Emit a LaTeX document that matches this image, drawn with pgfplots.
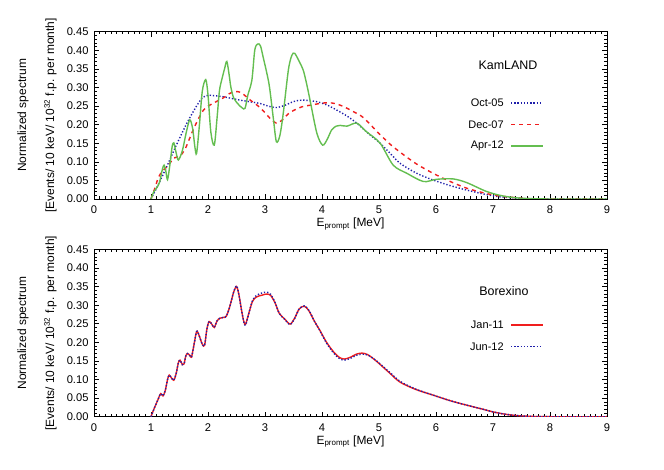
\documentclass[border=0pt]{standalone}
\usepackage{pgfplots}
\pgfplotsset{compat=1.18}
\usepackage{fontspec}
\setmainfont{Liberation Sans}
\definecolor{kamblue}{RGB}{30,30,170}
\definecolor{kamred}{RGB}{240,30,30}
\definecolor{kamgreen}{RGB}{100,190,80}

\pgfplotstableread{
x y
1.00 0.000
1.10 0.030
1.20 0.062
1.30 0.095
1.40 0.130
1.50 0.163
1.60 0.195
1.70 0.224
1.80 0.250
1.90 0.272
2.00 0.279
2.10 0.278
2.27 0.275
2.56 0.266
2.91 0.257
3.05 0.250
3.20 0.246
3.35 0.252
3.50 0.262
3.65 0.266
3.90 0.262
4.10 0.252
4.26 0.239
4.45 0.222
4.61 0.204
4.80 0.178
5.02 0.150
5.20 0.122
5.37 0.096
5.65 0.070
5.95 0.051
6.25 0.036
6.54 0.024
6.85 0.013
7.12 0.006
7.60 0.001
8.00 0.000
9.00 0.000
}\octzerofive

\pgfplotstableread{
x y
1.00 0.000
1.07 0.030
1.13 0.058
1.20 0.075
1.27 0.085
1.33 0.096
1.40 0.110
1.46 0.113
1.52 0.117
1.60 0.135
1.67 0.160
1.74 0.186
1.83 0.215
1.92 0.239
2.00 0.250
2.09 0.257
2.18 0.265
2.27 0.272
2.37 0.283
2.47 0.289
2.57 0.287
2.65 0.278
2.75 0.265
2.88 0.250
3.00 0.232
3.10 0.215
3.20 0.204
3.30 0.212
3.40 0.228
3.50 0.238
3.65 0.248
3.82 0.253
3.97 0.257
4.11 0.259
4.25 0.256
4.40 0.247
4.55 0.235
4.70 0.222
4.85 0.200
5.00 0.176
5.19 0.148
5.37 0.126
5.65 0.095
5.95 0.069
6.25 0.047
6.54 0.029
6.85 0.016
7.12 0.008
7.60 0.001
8.00 0.000
9.00 0.000
}\deczeroseven

\pgfplotstableread{
x y
1.00 0.000
1.05 0.020
1.10 0.030
1.15 0.045
1.20 0.080
1.23 0.091
1.26 0.075
1.29 0.052
1.33 0.090
1.37 0.140
1.40 0.151
1.44 0.125
1.48 0.105
1.55 0.130
1.62 0.180
1.68 0.213
1.73 0.190
1.77 0.140
1.80 0.123
1.85 0.200
1.90 0.290
1.96 0.321
2.00 0.280
2.05 0.180
2.11 0.145
2.16 0.220
2.20 0.290
2.24 0.320
2.29 0.350
2.33 0.370
2.37 0.335
2.40 0.302
2.45 0.272
2.53 0.255
2.60 0.245
2.65 0.244
2.70 0.280
2.77 0.320
2.82 0.400
2.87 0.417
2.92 0.412
2.97 0.380
3.03 0.340
3.08 0.300
3.15 0.212
3.20 0.154
3.26 0.170
3.32 0.230
3.41 0.347
3.47 0.386
3.52 0.392
3.60 0.370
3.67 0.347
3.73 0.310
3.79 0.266
3.91 0.177
4.01 0.145
4.09 0.160
4.17 0.186
4.25 0.196
4.32 0.198
4.44 0.196
4.61 0.204
4.78 0.181
5.02 0.150
5.25 0.091
5.49 0.069
5.78 0.047
6.01 0.053
6.30 0.054
6.54 0.044
6.89 0.020
7.18 0.008
7.50 0.002
8.00 0.000
9.00 0.000
}\aprtwelve

\pgfplotstableread{
x y
1.00 0.000
1.05 0.020
1.12 0.045
1.17 0.062
1.21 0.056
1.25 0.070
1.29 0.100
1.32 0.112
1.36 0.104
1.40 0.098
1.44 0.115
1.48 0.145
1.51 0.152
1.55 0.140
1.58 0.142
1.61 0.163
1.64 0.170
1.68 0.165
1.71 0.160
1.75 0.190
1.80 0.229
1.84 0.220
1.90 0.195
1.94 0.192
1.98 0.235
2.02 0.256
2.07 0.248
2.11 0.240
2.16 0.258
2.21 0.265
2.27 0.267
2.32 0.270
2.38 0.295
2.45 0.335
2.50 0.350
2.54 0.330
2.59 0.285
2.63 0.255
2.66 0.249
2.71 0.275
2.78 0.310
2.85 0.322
2.95 0.327
3.03 0.330
3.10 0.326
3.18 0.305
3.25 0.278
3.35 0.262
3.44 0.249
3.52 0.265
3.60 0.290
3.69 0.297
3.77 0.285
3.87 0.256
3.96 0.233
4.08 0.200
4.20 0.175
4.30 0.160
4.39 0.155
4.50 0.160
4.60 0.168
4.70 0.171
4.80 0.167
4.95 0.150
5.19 0.117
5.37 0.093
5.65 0.073
5.95 0.058
6.25 0.043
6.54 0.031
6.80 0.021
7.00 0.013
7.20 0.007
7.42 0.003
7.65 0.001
8.00 0.000
9.00 0.000
}\janeleven

\pgfplotstableread{
x y
1.00 0.000
1.05 0.020
1.12 0.045
1.17 0.062
1.21 0.056
1.25 0.070
1.29 0.100
1.32 0.112
1.36 0.104
1.40 0.098
1.44 0.115
1.48 0.145
1.51 0.152
1.55 0.140
1.58 0.142
1.61 0.163
1.64 0.170
1.68 0.165
1.71 0.160
1.75 0.190
1.80 0.229
1.84 0.220
1.90 0.195
1.94 0.192
1.98 0.235
2.02 0.256
2.07 0.248
2.11 0.240
2.16 0.258
2.21 0.265
2.27 0.267
2.32 0.270
2.38 0.295
2.45 0.335
2.50 0.352
2.54 0.330
2.59 0.285
2.63 0.254
2.66 0.246
2.71 0.274
2.78 0.312
2.85 0.326
2.95 0.333
3.03 0.335
3.10 0.329
3.18 0.306
3.25 0.278
3.35 0.261
3.44 0.248
3.52 0.264
3.60 0.290
3.69 0.298
3.77 0.286
3.87 0.256
3.96 0.232
4.08 0.198
4.20 0.172
4.30 0.157
4.39 0.152
4.50 0.157
4.60 0.165
4.70 0.168
4.80 0.166
4.95 0.151
5.19 0.119
5.37 0.095
5.65 0.074
5.95 0.058
6.25 0.043
6.54 0.031
6.80 0.021
7.00 0.013
7.20 0.007
7.42 0.003
7.65 0.001
8.00 0.000
9.00 0.000
}\juntwelve

\tikzset{
  blueline/.style={color=kamblue, line width=1.4bp, dash pattern=on 1.3bp off 1.9bp},
  redline/.style={color=kamred, line width=1.4bp, dash pattern=on 4bp off 4bp},
  redsolid/.style={color=kamred, line width=1.4bp},
  greenline/.style={color=kamgreen, line width=1.4bp},
  legtext/.style={font=\fontsize{11}{13}\selectfont, anchor=east, inner sep=0pt},
}

\pgfplotsset{
  panel/.style={
    scale only axis, width=513bp, height=167.3bp,
    xmin=0, xmax=9, ymin=0, ymax=0.45,
    xtick={0,1,2,3,4,5,6,7,8,9},
    ytick={0,0.05,0.10,0.15,0.20,0.25,0.30,0.35,0.40,0.45},
    minor x tick num=9, minor y tick num=4,
    tick align=inside, tick pos=both,
    major tick length=5bp, minor tick length=2.5bp,
    tick style={black, line width=0.6bp},
    axis line style={black, line width=0.8bp},
    every tick label/.append style={font=\fontsize{11.2}{13}\selectfont},
    /pgf/number format/assume math mode=true,
    yticklabel style={/pgf/number format/fixed, /pgf/number format/fixed zerofill, /pgf/number format/precision=2, xshift=-2bp},
    xticklabel style={yshift=-3.5bp},
    xlabel={E\textsubscript{prompt} [MeV]},
    xlabel style={at={(axis description cs:0.5,0)}, anchor=base, yshift=-27.5bp, font=\fontsize{12}{14}\selectfont},
    ylabel={Normalized spectrum\\{[}Events/ 10 keV/ 10\textsuperscript{32} f.p. per month{]}},
    ylabel style={at={(axis description cs:-0.111,0.5)}, anchor=center, align=center, font=\fontsize{12}{28}\selectfont},
  },
}

\begin{document}
\begin{tikzpicture}
\useasboundingbox (0,0) rectangle (664bp,470bp);
\begin{axis}[panel, at={(94bp,271bp)}, anchor=south west]
  \addplot[blueline, smooth] table[x=x,y=y] {\octzerofive};
  \addplot[redline, smooth] table[x=x,y=y] {\deczeroseven};
  \addplot[greenline, smooth] table[x=x,y=y] {\aprtwelve};
  \node[font=\fontsize{12.5}{14}\selectfont] at (axis description cs:0.807,0.801) {KamLAND};
  \node[legtext] at (axis description cs:0.799,0.574) {Oct-05};
  \draw[blueline] (axis description cs:0.813,0.574) -- (axis description cs:0.873,0.574);
  \node[legtext] at (axis description cs:0.799,0.445) {Dec-07};
  \draw[redline] (axis description cs:0.813,0.445) -- (axis description cs:0.873,0.445);
  \node[legtext] at (axis description cs:0.799,0.317) {Apr-12};
  \draw[greenline] (axis description cs:0.813,0.317) -- (axis description cs:0.876,0.317);
\end{axis}
\begin{axis}[panel, at={(94bp,53.3bp)}, anchor=south west]
  \addplot[redsolid, smooth] table[x=x,y=y] {\janeleven};
  \addplot[blueline, smooth] table[x=x,y=y] {\juntwelve};
  \node[font=\fontsize{12.5}{14}\selectfont] at (axis description cs:0.799,0.753) {Borexino};
  \node[legtext] at (axis description cs:0.799,0.548) {Jan-11};
  \draw[redsolid] (axis description cs:0.813,0.548) -- (axis description cs:0.876,0.548);
  \node[legtext] at (axis description cs:0.799,0.418) {Jun-12};
  \draw[blueline] (axis description cs:0.813,0.418) -- (axis description cs:0.873,0.418);
\end{axis}
\end{tikzpicture}
\end{document}
